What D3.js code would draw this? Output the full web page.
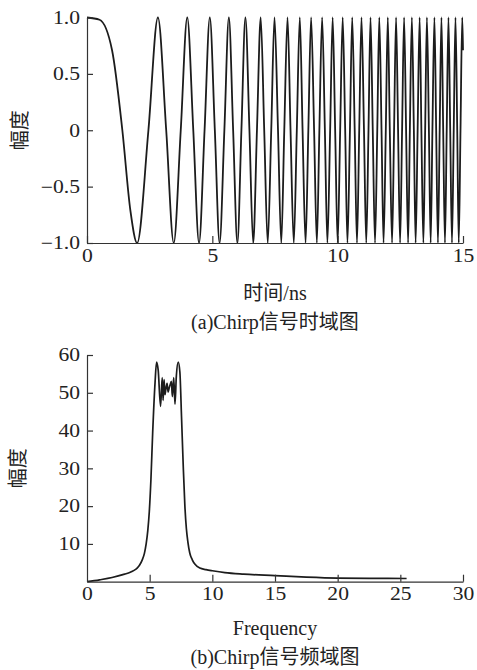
<!DOCTYPE html>
<html>
<head>
<meta charset="utf-8">
<script src="https://cdn.jsdelivr.net/npm/d3@7"></script>
<style>
  body { margin: 0; background: #fff; }
  text { font-family: "Liberation Serif", "Noto Sans CJK SC", serif; fill: #222; }
  .axis path, .axis line { stroke: #333; stroke-width: 1.2; }
  .axis text { font-size: 18px; transform-box: fill-box; }
  .axis.y text { transform: scaleX(1.2); transform-origin: right center; }
  .axis.x text { transform: scaleX(1.2); transform-origin: center; }
  .title { font-size: 20px; }
</style>
</head>
<body>
<div id="chart"></div>
<script>
// (a) chirp signal, times
var peakT = [0, 2.83, 4.00, 4.90, 5.66, 6.32, 6.93, 7.48, 8.00, 8.49, 8.94, 9.38, 9.80, 10.20, 10.58,
  10.95, 11.31, 11.66, 12.00, 12.33, 12.65, 12.96, 13.27, 13.56, 13.86, 14.14, 14.42, 14.70, 14.97];
var troughT = [2.00, 3.46, 4.47, 5.29, 6.00, 6.63, 7.21, 7.75, 8.25, 8.72, 9.17, 9.59, 10.00, 10.39,
  10.77, 11.14, 11.49, 11.83, 12.17, 12.49, 12.81, 13.11, 13.42, 13.71, 14.00, 14.28, 14.56, 14.83];
var zeroT = [1.41, 2.45, 3.16, 3.74, 4.24, 4.69, 5.10, 5.48, 5.83, 6.16, 6.48, 6.78, 7.07, 7.35, 7.62,
  7.87, 8.12, 8.37, 8.60, 8.83, 9.06, 9.27, 9.49, 9.70, 9.90, 10.10, 10.30, 10.49, 10.68, 10.86,
  11.05, 11.23, 11.40, 11.58, 11.75, 11.92, 12.08, 12.25, 12.41, 12.57, 12.73, 12.88, 13.04, 13.19,
  13.34, 13.49, 13.64, 13.78, 13.93, 14.07, 14.21, 14.35, 14.49, 14.63, 14.77, 14.90];
// a few extra readings on the first slow lobe and the end of the trace
var extraT = [0.5, 1.0, 1.73, 15.0];
var extraV = [0.98, 0.71, -0.71, 0.71];

var xTicksA = [0, 5, 10, 15];
var yTicksA = [-1, -0.5, 0, 0.5, 1];
var yLabelsA = ["\u22121.0", "\u22120.5", "0", "0.5", "1.0"];

// (b) spectrum magnitude
var freq = [0, 1, 2, 3, 3.45, 3.75, 4.0, 4.2, 4.4, 4.58, 4.72, 4.85, 4.97, 5.1, 5.24, 5.43, 5.55, 5.68, 5.87,
  6.0, 6.07, 6.15, 6.22, 6.28, 6.39, 6.47, 6.55, 6.64, 6.73, 6.81, 6.92, 7.02, 7.13, 7.28, 7.41,
  7.54, 7.68, 7.81, 7.93, 8.05, 8.2, 8.4, 8.62, 9.0, 9.5, 10, 11, 12.5, 15, 17.5, 20, 22.5, 25.5];
var amp = [0, 0.5, 1.1, 2.0, 2.5, 3.0, 3.6, 4.4, 5.7, 7.5, 10, 13.5, 18.5, 27, 39.4, 52.7, 58.1, 56, 46.4,
  54, 48, 53.5, 49.5, 50.7, 52.5, 50.2, 51.2, 52.2, 53, 49, 54, 47, 54.5, 58.1, 55.5,
  43.8, 30.5, 20, 14, 10.5, 7.6, 5.8, 4.6, 3.6, 3.2, 2.9, 2.4, 2.0, 1.6, 1.2, 0.95, 0.9, 0.85];

var xTicksB = [0, 5, 10, 15, 20, 25, 30];
var yTicksB = [10, 20, 30, 40, 50, 60];

var W = 477, H = 670;
var svg = d3.select("#chart").append("svg")
    .attr("width", W)
    .attr("height", H);

// ---------- panel (a) ----------
var xa = d3.scaleLinear().domain([0, 15]).range([87, 463]);
var ya = d3.scaleLinear().domain([-1, 1]).range([243, 17.5]);

var chirp = [];
peakT.forEach(function(t) { chirp.push({t: t, v: 1}); });
troughT.forEach(function(t) { chirp.push({t: t, v: -1}); });
zeroT.forEach(function(t) { chirp.push({t: t, v: 0}); });
extraT.forEach(function(t, i) { chirp.push({t: t, v: extraV[i]}); });
chirp.sort(function(a, b) { return a.t - b.t; });

svg.append("path")
    .datum(chirp)
    .attr("fill", "none")
    .attr("stroke", "#1c1c1c")
    .attr("stroke-width", 1.8)
    .attr("d", d3.line()
      .x(function(d) { return xa(d.t); })
      .y(function(d) { return ya(d.v); })
      .curve(d3.curveMonotoneX));

svg.append("g")
    .attr("class", "axis x")
    .attr("transform", "translate(0," + ya(-1) + ")")
    .call(d3.axisBottom(xa).tickValues(xTicksA).tickFormat(d3.format("d"))
      .tickSizeInner(-7).tickSizeOuter(0).tickPadding(6));

svg.append("g")
    .attr("class", "axis y")
    .attr("transform", "translate(" + xa(0) + ",0)")
    .call(d3.axisLeft(ya).tickValues(yTicksA)
      .tickFormat(function(d, i) { return yLabelsA[i]; })
      .tickSizeInner(-6).tickSizeOuter(0).tickPadding(7));

svg.append("text").attr("class", "title")
    .attr("transform", "translate(20," + ((ya(1) + ya(-1)) / 2) + ") rotate(-90)")
    .attr("text-anchor", "middle").attr("dy", "0.35em")
    .text("幅度");

svg.append("text").attr("class", "title")
    .attr("x", (xa(0) + xa(15)) / 2).attr("y", 293)
    .attr("text-anchor", "middle").attr("dy", "0.35em")
    .text("时间/ns");

svg.append("text").attr("class", "title")
    .attr("x", (xa(0) + xa(15)) / 2).attr("y", 322)
    .attr("text-anchor", "middle").attr("dy", "0.35em")
    .text("(a)Chirp信号时域图");

// ---------- panel (b) ----------
var xb = d3.scaleLinear().domain([0, 30]).range([87, 463]);
var yb = d3.scaleLinear().domain([0, 60]).range([581.7, 355]);

svg.append("path")
    .datum(freq.map(function(f, i) { return {f: f, a: amp[i]}; }))
    .attr("fill", "none")
    .attr("stroke", "#1c1c1c")
    .attr("stroke-width", 1.7)
    .attr("d", d3.line()
      .x(function(d) { return xb(d.f); })
      .y(function(d) { return yb(d.a); })
      .curve(d3.curveMonotoneX));

svg.append("g")
    .attr("class", "axis x")
    .attr("transform", "translate(0," + yb(0) + ")")
    .call(d3.axisBottom(xb).tickValues(xTicksB).tickFormat(d3.format("d"))
      .tickSizeInner(-7).tickSizeOuter(0).tickPadding(6))
    .selectAll(".tick line").filter(function(d) { return d === 0; }).remove();

svg.append("g")
    .attr("class", "axis y")
    .attr("transform", "translate(" + xb(0) + ",0)")
    .call(d3.axisLeft(yb).tickValues(yTicksB).tickFormat(d3.format("d"))
      .tickSizeInner(-6).tickSizeOuter(0).tickPadding(7));

svg.append("text").attr("class", "title")
    .attr("transform", "translate(18," + ((yb(0) + yb(60)) / 2) + ") rotate(-90)")
    .attr("text-anchor", "middle").attr("dy", "0.35em")
    .text("幅度");

svg.append("text").attr("class", "title")
    .attr("x", (xb(0) + xb(30)) / 2).attr("y", 628)
    .attr("text-anchor", "middle").attr("dy", "0.35em")
    .text("Frequency");

svg.append("text").attr("class", "title")
    .attr("x", (xb(0) + xb(30)) / 2).attr("y", 657)
    .attr("text-anchor", "middle").attr("dy", "0.35em")
    .text("(b)Chirp信号频域图");
</script>
</body>
</html>
